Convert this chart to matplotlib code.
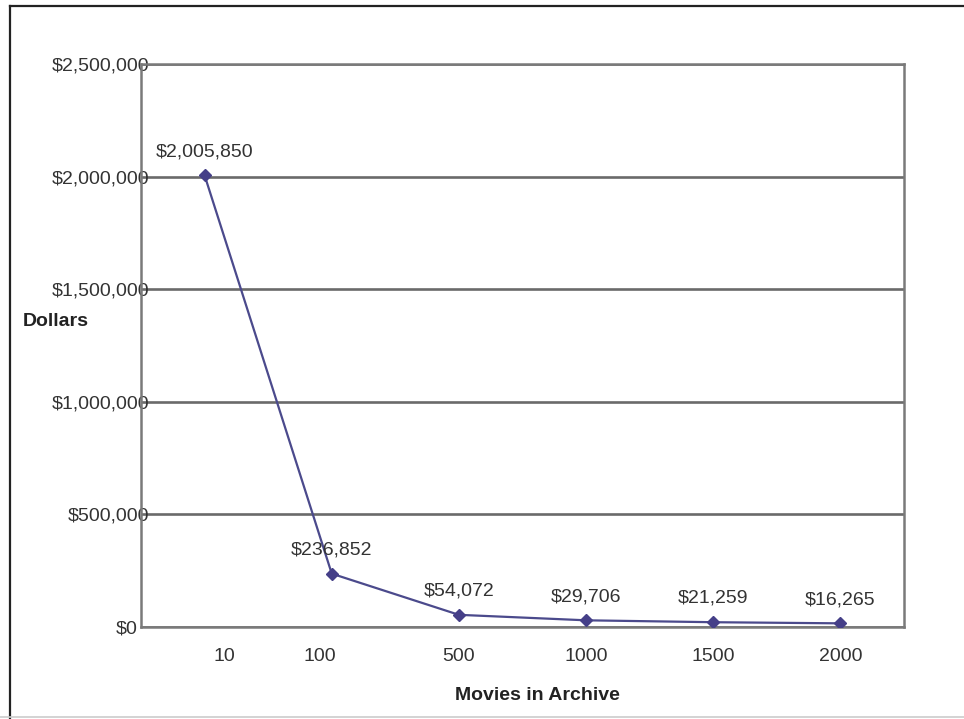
import matplotlib
matplotlib.use("Agg")
import matplotlib.pyplot as plt
import matplotlib.transforms as mtransforms
from matplotlib.lines import Line2D
from matplotlib.ticker import FuncFormatter, MultipleLocator

plt.rcParams['font.family'] = ['Liberation Sans', 'DejaVu Sans']

# Archive size categories and the cost per movie for each
archive_sizes = ["10", "100", "500", "1000", "1500", "2000"]
dollars = [2005850, 236852, 54072, 29706, 21259, 16265]

W, H = 964, 719
FS = 14
fig = plt.figure(figsize=(W / 100, H / 100), dpi=100)
fig.patch.set_facecolor("white")

# Outer frame: dark left and top edges, light bottom edge
fig.add_artist(Line2D([10 / W, 10 / W], [0, 1 - 6 / H], transform=fig.transFigure,
                      color="#222222", lw=1.6))
fig.add_artist(Line2D([10 / W, 1], [1 - 6 / H, 1 - 6 / H], transform=fig.transFigure,
                      color="#222222", lw=1.6))
fig.add_artist(Line2D([0, 1], [1 - 717 / H, 1 - 717 / H], transform=fig.transFigure,
                      color="#cccccc", lw=1.2))

left, right, top, bottom = 141, 904, 64, 627
ax = fig.add_axes([left / W, 1 - bottom / H, (right - left) / W, (bottom - top) / H])

x = list(range(len(archive_sizes)))
ax.plot(x, dollars, color="#4b4a8c", lw=1.6, marker="D", markersize=6,
        markerfacecolor="#453f88", markeredgecolor="#453f88", zorder=4)

ax.set_xlim(-0.5, len(archive_sizes) - 0.5)
ax.set_ylim(0, 2500000)
ax.yaxis.set_major_locator(MultipleLocator(500000))
ax.yaxis.set_major_formatter(FuncFormatter(lambda v, p: f"${v:,.0f}"))

ax.grid(axis="y", color="#6a6a6a", lw=1.9, zorder=1)
ax.set_axisbelow(True)
for s in ax.spines.values():
    s.set_color("#7a7a7a")
    s.set_linewidth(1.8)

ax.tick_params(axis="both", length=0, labelsize=FS, labelcolor="#333333")
ax.tick_params(axis="y", pad=-6)
ax.tick_params(axis="x", pad=15)

ax.set_xticks(x)
ax.set_xticklabels(archive_sizes)


def shift(lbl, dx):
    lbl.set_transform(lbl.get_transform() +
                      mtransforms.ScaledTranslation(dx / 100, 0, fig.dpi_scale_trans))


x_shift = {"10": 20, "100": -12}
for lbl in ax.get_xticklabels():
    if lbl.get_text() in x_shift:
        shift(lbl, x_shift[lbl.get_text()])

fig.canvas.draw()
for lbl in ax.get_yticklabels():
    if lbl.get_text() == "$0":
        shift(lbl, -12)

for xi, v in zip(x, dollars):
    ax.annotate(f"${v:,}", (xi, v), xytext=(0, 11), textcoords="offset points",
                ha="center", va="bottom", fontsize=FS, color="#333333", zorder=5)

fig.text(23 / W, 1 - 322 / H, "Dollars", fontsize=FS, fontweight="bold",
         color="#222222", ha="left", va="center")
fig.text(537 / W, 1 - 696 / H, "Movies in Archive", fontsize=FS, fontweight="bold",
         color="#222222", ha="center", va="center")

fig.savefig("out.png", dpi=100, facecolor="white")
